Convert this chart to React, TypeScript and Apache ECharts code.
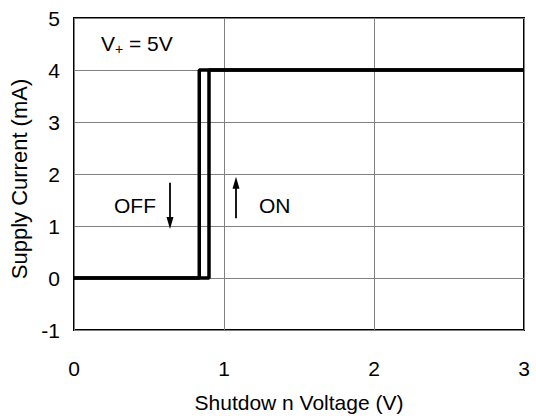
import React, { useEffect, useRef } from "react";
import * as echarts from "echarts";

const xTicks = [0, 1, 2, 3];
const yTicks = [-1, 0, 1, 2, 3, 4, 5];
// hysteresis loop: turning ON path and turning OFF path
const onPath: [number, number][] = [
  [0, 0],
  [0.9, 0],
  [0.9, 4],
  [3, 4],
];
const offPath: [number, number][] = [
  [3, 4],
  [0.835, 4],
  [0.835, 0],
  [0, 0],
];
const offArrow: [number, number][] = [
  [0.64, 1.83],
  [0.64, 1.06],
];
const onArrow: [number, number][] = [
  [1.08, 1.15],
  [1.08, 1.83],
];
const xName = "Shutdow n Voltage (V)";
const yName = "Supply Current (mA)";

const FONT = "Liberation Sans, Arial, sans-serif";

export default function App() {
  const ref = useRef<HTMLDivElement>(null);
  useEffect(() => {
    const chart = echarts.init(ref.current!, undefined, { renderer: "svg" });
    const arrowLine = (pts: [number, number][]) => ({
      silent: true,
      symbol: ["none", "triangle"],
      symbolSize: [7, 12],
      label: { show: false },
      lineStyle: { color: "#000", width: 1.8, type: "solid" },
      itemStyle: { color: "#000" },
      data: [[{ coord: pts[0] }, { coord: pts[1] }]],
    });
    chart.setOption({
      animation: false,
      grid: { left: 74, right: 12, top: 18, bottom: 89, show: true, borderColor: "#000", borderWidth: 2, backgroundColor: "transparent" },
      xAxis: {
        type: "value",
        min: 0,
        max: 3,
        interval: 1,
        name: xName,
        nameLocation: "middle",
        nameGap: 62,
        nameTextStyle: { fontSize: 21, color: "#000", fontFamily: FONT },
        axisLine: { show: false },
        axisTick: { show: false },
        axisLabel: { margin: 28, fontSize: 21, color: "#000", fontFamily: FONT, formatter: (v: number) => (xTicks.includes(v) ? String(v) : "") },
        splitLine: { show: true, lineStyle: { color: "#808080", width: 1 } },
      },
      yAxis: {
        type: "value",
        min: -1,
        max: 5,
        interval: 1,
        name: yName,
        nameLocation: "middle",
        nameGap: 36,
        nameTextStyle: { fontSize: 22, color: "#000", fontFamily: FONT, padding: [0, 10, 0, 0] },
        axisLine: { show: false },
        axisTick: { show: false },
        axisLabel: { margin: 14, fontSize: 21, color: "#000", fontFamily: FONT, formatter: (v: number) => (yTicks.includes(v) ? String(v) : "") },
        splitLine: { show: true, lineStyle: { color: "#808080", width: 1 } },
      },
      series: [
        {
          type: "line",
          data: onPath,
          symbol: "none",
          lineStyle: { color: "#000", width: 3.5 },
          markLine: arrowLine(offArrow),
        },
        {
          type: "line",
          data: offPath,
          symbol: "none",
          lineStyle: { color: "#000", width: 3.5 },
          markLine: arrowLine(onArrow),
        },
      ],
      graphic: [
        {
          type: "text",
          left: 101,
          top: 33,
          style: { rich: {
            a: { fontSize: 21, fontFamily: FONT, fill: "#000" },
            s: { fontSize: 14, fontFamily: FONT, fill: "#000", verticalAlign: "bottom", padding: [10, 0, 0, 0] },
          }, text: "{a|V}{s|+}{a| = 5V}" },
        },
        { type: "text", left: 114, top: 195, style: { text: "OFF", fontSize: 21, fontFamily: FONT, fill: "#000" } },
        { type: "text", left: 259, top: 195, style: { text: "ON", fontSize: 21, fontFamily: FONT, fill: "#000" } },
      ],
    });
    return () => chart.dispose();
  }, []);
  return <div ref={ref} style={{ width: 536, height: 419, position: "absolute", left: 0, top: 0, background: "#fff" }} />;
}
